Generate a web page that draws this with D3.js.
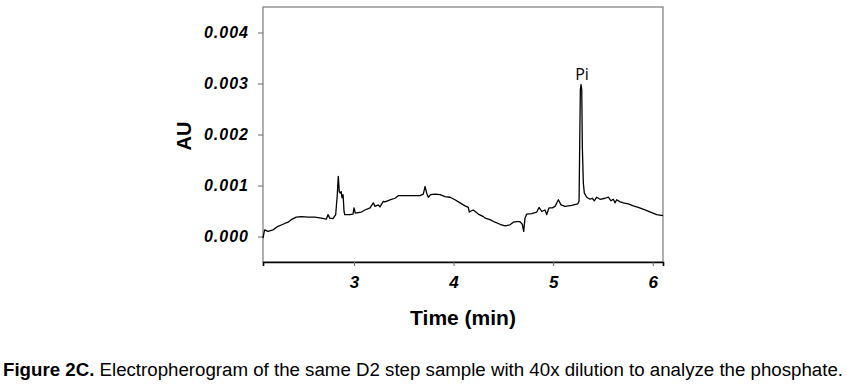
<!DOCTYPE html>
<html>
<head>
<meta charset="utf-8">
<script src="https://cdn.jsdelivr.net/npm/d3@7"></script>
<style>
  body { margin: 0; background: #fff; }
  svg { display: block; }
</style>
</head>
<body>
<figure id="chart" style="margin:0"></figure>
<script>
// electropherogram trace (time in min, absorbance in AU)
const time = [
  2.086, 2.096, 2.103, 2.136, 2.187, 2.237, 2.287, 2.337, 2.370, 2.420,
  2.471, 2.538, 2.605, 2.672, 2.722, 2.739, 2.756, 2.789, 2.816, 2.832,
  2.842, 2.852, 2.862, 2.872, 2.879, 2.890, 2.900, 2.907, 2.957, 2.990,
  3.000, 3.013, 3.073, 3.110, 3.161, 3.194, 3.211, 3.244, 3.261, 3.294,
  3.311, 3.362, 3.412, 3.445, 3.512, 3.596, 3.663, 3.696, 3.713, 3.730,
  3.746, 3.770, 3.813, 3.864, 3.914, 3.964, 4.014, 4.065, 4.115, 4.148,
  4.158, 4.165, 4.198, 4.248, 4.299, 4.316, 4.366, 4.416, 4.466, 4.516,
  4.566, 4.600, 4.634, 4.667, 4.690, 4.704, 4.717, 4.734, 4.785, 4.835,
  4.858, 4.885, 4.918, 4.935, 4.958, 4.991, 5.019, 5.052, 5.079, 5.119,
  5.186, 5.247, 5.260, 5.273, 5.280, 5.287, 5.293, 5.303, 5.313, 5.337,
  5.370, 5.393, 5.413, 5.437, 5.471, 5.521, 5.554, 5.581, 5.604, 5.621,
  5.638, 5.672, 5.705, 5.755, 5.805, 5.855, 5.922, 5.990, 6.040, 6.103
];
const absorbance = [
  -0.00003, 0.00007, 0.00013, 0.00010, 0.00013, 0.00020, 0.00024, 0.00028, 0.00033, 0.00038,
  0.00039, 0.00038, 0.00038, 0.00036, 0.00034, 0.00043, 0.00036, 0.00035, 0.00043, 0.00082,
  0.00118, 0.00088, 0.00085, 0.00088, 0.00076, 0.00082, 0.00049, 0.00043, 0.00043, 0.00044,
  0.00056, 0.00046, 0.00048, 0.00052, 0.00056, 0.00066, 0.00059, 0.00062, 0.00058, 0.00069,
  0.00068, 0.00072, 0.00075, 0.00080, 0.00080, 0.00080, 0.00080, 0.00083, 0.00098, 0.00085,
  0.00077, 0.00082, 0.00083, 0.00082, 0.00078, 0.00077, 0.00072, 0.00066, 0.00060, 0.00057,
  0.00048, 0.00049, 0.00052, 0.00044, 0.00039, 0.00036, 0.00033, 0.00028, 0.00024, 0.00021,
  0.00023, 0.00028, 0.00029, 0.00029, 0.00024, 0.00010, 0.00036, 0.00044, 0.00045, 0.00048,
  0.00057, 0.00049, 0.00052, 0.00043, 0.00056, 0.00056, 0.00059, 0.00072, 0.00062, 0.00059,
  0.00061, 0.00064, 0.00069, 0.00288, 0.00298, 0.00288, 0.00176, 0.00105, 0.00085, 0.00077,
  0.00073, 0.00075, 0.00070, 0.00077, 0.00073, 0.00075, 0.00077, 0.00070, 0.00073, 0.00066,
  0.00072, 0.00068, 0.00066, 0.00064, 0.00060, 0.00057, 0.00052, 0.00047, 0.00043, 0.00041
];

const xTicks = [3, 4, 5, 6];
const yTicks = [0, 0.001, 0.002, 0.003, 0.004];
const peakLabel = { name: "Pi", time: 5.280, value: 0.00298 };
const captionBold = "Figure 2C.";
const captionText = " Electropherogram of the same D2 step sample with 40x dilution to analyze the phosphate.";

const width = 847;
const height = 392;
const marginLeft = 263;
const marginRight = 184;
const marginTop = 7;
const marginBottom = 130;

const data = time.map((t, i) => ({ t: t, v: absorbance[i] }));

const svg = d3.select("figure#chart")
  .append("svg")
    .attr("width", width)
    .attr("height", height)
    .attr("viewBox", [0, 0, width, height]);

svg.append("rect")
    .attr("width", width)
    .attr("height", height)
    .attr("fill", "#fff");

// scales
const x = d3.scaleLinear()
    .domain([2.086, 6.103])
    .range([marginLeft, width - marginRight]);

const y = d3.scaleLinear()
    .domain([-0.0005, 0.0045])
    .range([height - marginBottom, marginTop]);

// frame
svg.append("rect")
    .attr("x", marginLeft)
    .attr("y", marginTop)
    .attr("width", width - marginRight - marginLeft)
    .attr("height", height - marginBottom - marginTop)
    .attr("fill", "none")
    .attr("stroke", "#7a7a7a")
    .attr("stroke-width", 1.2);

// x axis
svg.append("g")
    .attr("transform", `translate(0,${height - marginBottom})`)
    .call(d3.axisBottom(x).tickValues(xTicks).tickFormat(d3.format("d")).tickSize(4).tickPadding(10))
    .call(g => g.select(".domain").attr("stroke", "#000").attr("stroke-width", 1.6))
    .call(g => g.selectAll(".tick line").attr("stroke", "#666"))
    .call(g => g.selectAll(".tick text")
        .attr("font-family", "Liberation Sans, Arial, sans-serif")
        .attr("font-size", 17)
        .attr("font-weight", "bold")
        .attr("font-style", "italic")
        .attr("fill", "#000"));

// y axis
svg.append("g")
    .attr("transform", `translate(${marginLeft},0)`)
    .call(d3.axisLeft(y).tickValues(yTicks).tickFormat(d3.format(".3f")).tickSize(5).tickPadding(9))
    .call(g => g.select(".domain").remove())
    .call(g => g.selectAll(".tick line").attr("stroke", "#666"))
    .call(g => g.selectAll(".tick text")
        .attr("font-family", "Liberation Sans, Arial, sans-serif")
        .attr("font-size", 16)
        .attr("font-weight", "bold")
        .attr("font-style", "italic")
        .attr("letter-spacing", 1)
        .attr("fill", "#000"));

// trace
const line = d3.line()
    .x(d => x(d.t))
    .y(d => y(d.v));

svg.append("path")
    .datum(data)
    .attr("fill", "none")
    .attr("stroke", "#000")
    .attr("stroke-width", 1.3)
    .attr("stroke-linejoin", "round")
    .attr("d", line);

// peak label
svg.append("text")
    .attr("x", x(peakLabel.time) + 1)
    .attr("y", y(peakLabel.value) - 5)
    .attr("text-anchor", "middle")
    .attr("font-family", "Open Sans, sans-serif")
    .attr("font-size", 16)
    .text(peakLabel.name);

// axis titles
svg.append("text")
    .attr("x", 463)
    .attr("y", 325)
    .attr("text-anchor", "middle")
    .attr("font-family", "Liberation Sans, Arial, sans-serif")
    .attr("font-size", 21)
    .attr("font-weight", "bold")
    .text("Time (min)");

svg.append("text")
    .attr("transform", "translate(191,136) rotate(-90)")
    .attr("text-anchor", "middle")
    .attr("font-family", "Liberation Sans, Arial, sans-serif")
    .attr("font-size", 20)
    .attr("font-weight", "bold")
    .text("AU");

// caption
const caption = svg.append("text")
    .attr("x", 3)
    .attr("y", 376)
    .attr("font-family", "Liberation Sans Narrow, Arial Narrow, Liberation Sans, sans-serif")
    .attr("font-size", 18)
    .attr("textLength", 840)
    .attr("lengthAdjust", "spacingAndGlyphs");

caption.append("tspan")
    .attr("font-weight", "bold")
    .text(captionBold);

caption.append("tspan")
    .text(captionText);
</script>
</body>
</html>
